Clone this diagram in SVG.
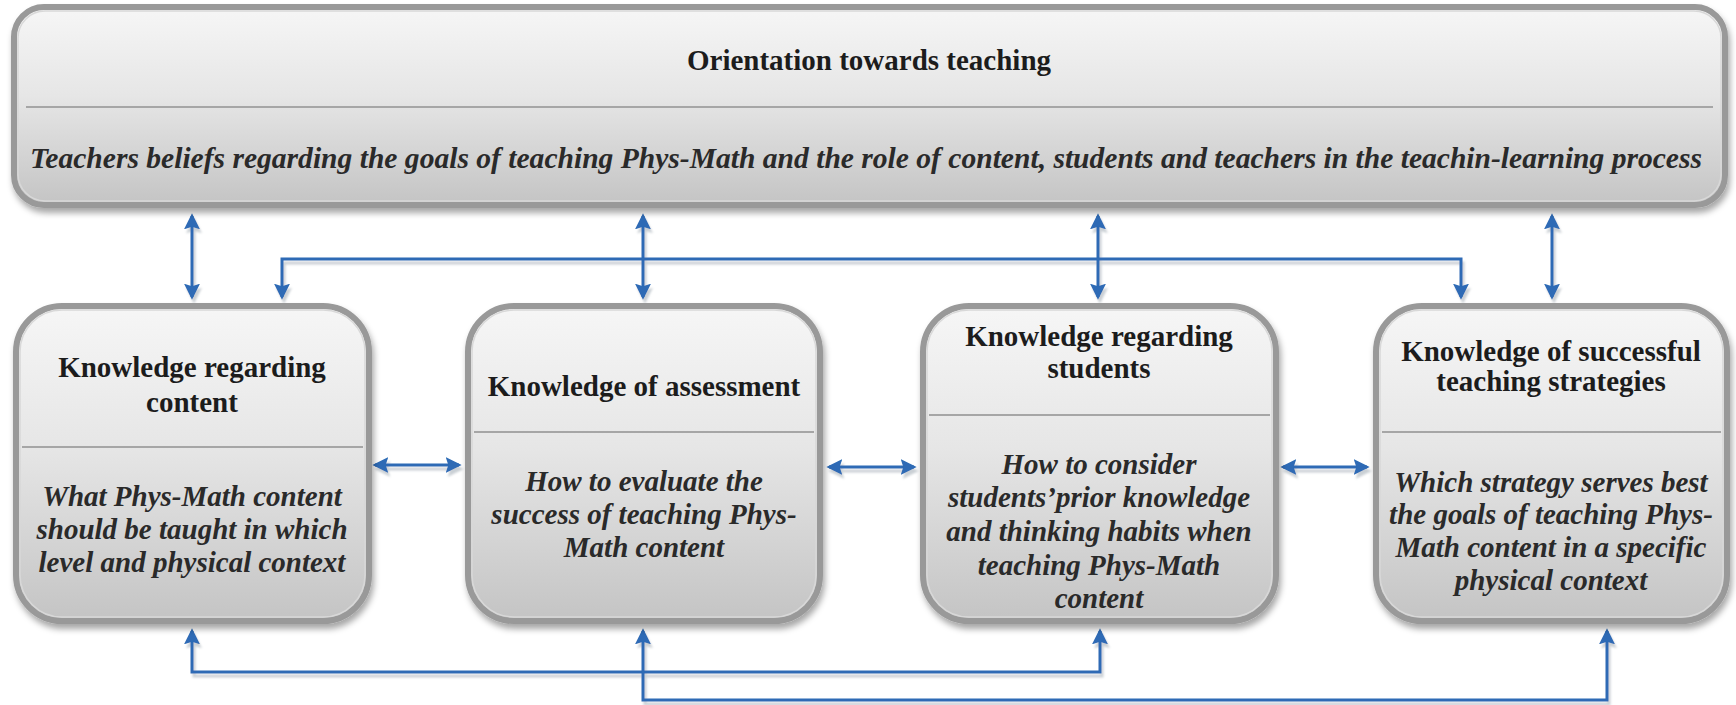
<svg xmlns="http://www.w3.org/2000/svg" width="1736" height="705" viewBox="0 0 1736 705">
<defs>
<linearGradient id="boxg" x1="0" y1="0" x2="0" y2="1">
<stop offset="0" stop-color="#f6f6f6"/>
<stop offset="0.45" stop-color="#e6e6e6"/>
<stop offset="1" stop-color="#c4c4c4"/>
</linearGradient>
<filter id="shadow" x="-5%" y="-5%" width="112%" height="115%">
<feDropShadow dx="2" dy="5" stdDeviation="3" flood-color="#000" flood-opacity="0.35"/>
</filter>
<filter id="lshadow" x="-5%" y="-20%" width="110%" height="140%">
<feDropShadow dx="2" dy="4" stdDeviation="0.8" flood-color="#8a95a0" flood-opacity="0.45"/>
</filter>
<marker id="ah" viewBox="0 0 12 12" refX="10" refY="6" markerWidth="16" markerHeight="16" markerUnits="userSpaceOnUse" orient="auto-start-reverse">
<path d="M0,0 L12,6 L0,12 L2,6 z" fill="#2d6ab5"/>
</marker>
</defs>
<style>
.box{fill:url(#boxg);stroke:#999;stroke-width:6;filter:url(#shadow)}
.inner{fill:none;stroke:#d8d8d8;stroke-width:1.5}
.div{stroke:#a6a6a6;stroke-width:2}
.t{font-family:"Liberation Serif","Times New Roman",serif;font-size:29px;font-weight:bold;fill:#1c1c1c;text-anchor:middle}
.i{font-family:"Liberation Serif","Times New Roman",serif;font-size:29px;font-weight:bold;font-style:italic;fill:#2a2a2a;text-anchor:middle}
.c{fill:none;stroke:#2d6ab5;stroke-width:3;marker-start:url(#ah);marker-end:url(#ah)}
</style>
<rect width="1736" height="705" fill="#ffffff"/>

<g id="connectors" filter="url(#lshadow)">
<path class="c" d="M192,216 V297"/>
<path class="c" d="M643,216 V297"/>
<path class="c" d="M1098,216 V297"/>
<path class="c" d="M1552,216 V297"/>
<path class="c" d="M282,297 V259 H1461 V297"/>
<path class="c" d="M375,465 H459"/>
<path class="c" d="M829,467 H914"/>
<path class="c" d="M1283,467 H1367"/>
<path class="c" d="M192,631 V672 H1100 V631"/>
<path class="c" d="M643,631 V700 H1607 V631"/>
</g>

<g id="orientation">
<rect class="box" x="14" y="7" width="1711" height="198" rx="30"/>
<rect class="inner" x="18" y="11" width="1703" height="190" rx="27"/>
<line class="div" x1="26" y1="107" x2="1713" y2="107"/>
<text class="t" x="869" y="70">Orientation towards teaching</text>
<text class="i" x="866" y="168" textLength="1672" lengthAdjust="spacingAndGlyphs">Teachers beliefs regarding the goals of teaching Phys-Math and the role of content, students and teachers in the teachin-learning process</text>
</g>

<g id="content">
<rect class="box" x="16" y="306" width="353" height="315" rx="46"/>
<rect class="inner" x="20" y="310" width="345" height="307" rx="42"/>
<line class="div" x1="22" y1="447" x2="363" y2="447"/>
<text class="t" x="192" y="377">Knowledge regarding</text>
<text class="t" x="192" y="412">content</text>
<text class="i" x="192" y="506">What Phys-Math content</text>
<text class="i" x="192" y="539">should be taught in which</text>
<text class="i" x="192" y="572">level and physical context</text>
</g>

<g id="assessment">
<rect class="box" x="468" y="306" width="352" height="315" rx="46"/>
<rect class="inner" x="472" y="310" width="344" height="307" rx="42"/>
<line class="div" x1="474" y1="432" x2="814" y2="432"/>
<text class="t" x="644" y="396">Knowledge of assessment</text>
<text class="i" x="644" y="491">How to evaluate the</text>
<text class="i" x="644" y="524">success of teaching Phys-</text>
<text class="i" x="644" y="557">Math content</text>
</g>

<g id="students">
<rect class="box" x="923" y="306" width="353" height="315" rx="46"/>
<rect class="inner" x="927" y="310" width="345" height="307" rx="42"/>
<line class="div" x1="929" y1="415" x2="1270" y2="415"/>
<text class="t" x="1099" y="346">Knowledge regarding</text>
<text class="t" x="1099" y="378">students</text>
<text class="i" x="1099" y="474">How to consider</text>
<text class="i" x="1099" y="507">students’prior knowledge</text>
<text class="i" x="1099" y="541">and thinking habits when</text>
<text class="i" x="1099" y="575">teaching Phys-Math</text>
<text class="i" x="1099" y="608">content</text>
</g>

<g id="strategies">
<rect class="box" x="1376" y="306" width="351" height="315" rx="46"/>
<rect class="inner" x="1380" y="310" width="343" height="307" rx="42"/>
<line class="div" x1="1382" y1="432" x2="1721" y2="432"/>
<text class="t" x="1551" y="361">Knowledge of successful</text>
<text class="t" x="1551" y="391">teaching strategies</text>
<text class="i" x="1551" y="492">Which strategy serves best</text>
<text class="i" x="1551" y="524">the goals of teaching Phys-</text>
<text class="i" x="1551" y="557">Math content in a specific</text>
<text class="i" x="1551" y="590">physical context</text>
</g>
</svg>
